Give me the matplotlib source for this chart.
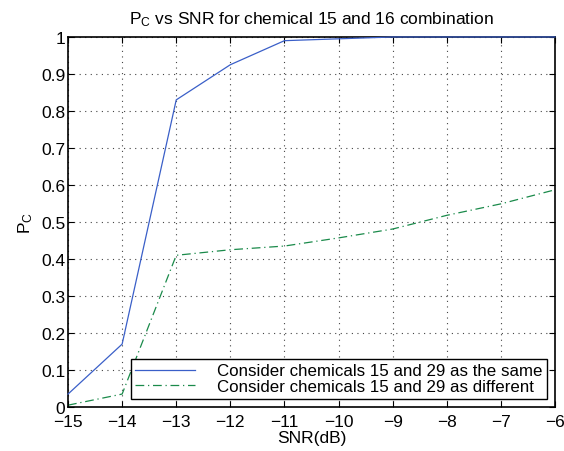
import matplotlib
matplotlib.use("Agg")
import matplotlib.pyplot as plt

snr = [-15, -14, -13, -12, -11, -10, -9, -8, -7, -6]
pc_same = [0.035, 0.17, 0.83, 0.925, 0.99, 0.995, 1.0, 1.0, 1.0, 1.0]
pc_diff = [0.005, 0.035, 0.41, 0.425, 0.435, 0.457, 0.481, 0.518, 0.549, 0.587]
labels = ["Consider chemicals 15 and 29 as the same",
          "Consider chemicals 15 and 29 as different"]
xticks = [-15, -14, -13, -12, -11, -10, -9, -8, -7, -6]
yticks = [0, 0.1, 0.2, 0.3, 0.4, 0.5, 0.6, 0.7, 0.8, 0.9, 1]
ytick_labels = ["0", "0.1", "0.2", "0.3", "0.4", "0.5", "0.6", "0.7", "0.8", "0.9", "1"]

plt.rcParams['font.family'] = ['Liberation Sans', 'DejaVu Sans']
plt.rcParams['mathtext.fontset'] = 'custom'
plt.rcParams['mathtext.rm'] = 'Liberation Sans'
plt.rcParams['mathtext.it'] = 'Liberation Sans'

fig = plt.figure(figsize=(5.64, 4.52), dpi=100)
ax = fig.add_axes([0.1206, 0.0973, 0.8634, 0.8187])

ax.plot(snr, pc_same, color='#3a5fc8', lw=0.9, label=labels[0], clip_on=False, zorder=5)
ax.plot(snr, pc_diff, color='#1a8a4a', lw=0.9, ls=(0, (7, 3, 1, 3)), label=labels[1])

ax.set_xlim(-15, -6)
ax.set_ylim(0, 1)
ax.set_xticks(xticks)
ax.set_xticklabels([str(t).replace('-', '\u2212') for t in xticks])
ax.set_yticks(yticks)
ax.set_yticklabels(ytick_labels)
ax.tick_params(direction='in', top=True, right=True, labelsize=12.5, length=4, pad=2)
ax.tick_params(axis='x', pad=5)
ax.grid(True, ls=(0, (1, 4)), color='#444444', lw=0.8)
for s in ax.spines.values():
    s.set_linewidth(1.2)

ax.set_xlabel('SNR(dB)', fontsize=12.5, labelpad=1)
ax.set_ylabel(r'P$_\mathrm{C}$', fontsize=12.5, labelpad=4)
ax.set_title(r'P$_\mathrm{C}$ vs SNR for chemical 15 and 16 combination', fontsize=12.5, pad=10)

leg = ax.legend(loc='lower right', fontsize=12.2, fancybox=False, framealpha=1,
                edgecolor='black', borderpad=0.25, labelspacing=0.05,
                handlelength=3.5, handletextpad=1.3, borderaxespad=0.5)
leg.get_frame().set_linewidth(1.0)

fig.savefig('out.png', dpi=100)
